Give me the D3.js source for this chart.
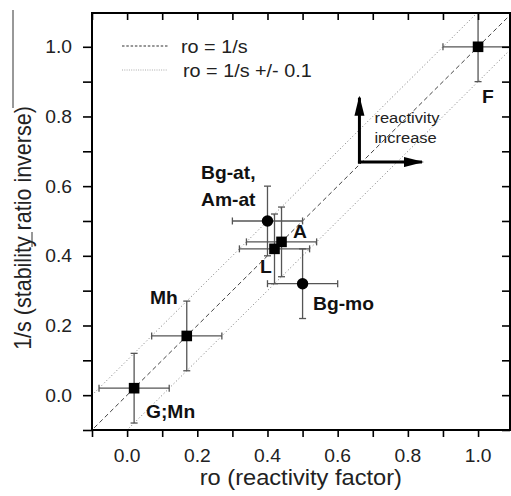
<!DOCTYPE html>
<html><head><meta charset="utf-8">
<script src="https://cdn.jsdelivr.net/npm/d3@7"></script>
<style>body{margin:0;background:#fff}svg{display:block}text{font-family:Arial,"Liberation Sans",sans-serif}</style>
</head><body><svg id="c" width="511" height="496"></svg>
<script>
const labels = ["G;Mn","Mh","Bg-at, Am-at","L","A","Bg-mo","F"];
const roValues = [0.02,0.17,0.40,0.42,0.44,0.50,1.00];
const invS = [0.02,0.17,0.50,0.42,0.44,0.32,1.00];
const roErr = [0.1,0.1,0.1,0.1,0.1,0.1,0.1];
const invSErr = [0.1,0.1,0.1,0.1,0.1,0.1,0.1];
const markerType = ["square","square","circle","square","square","circle","square"];
const xTicks = [0.0,0.2,0.4,0.6,0.8,1.0];
const yTicks = [0.0,0.2,0.4,0.6,0.8,1.0];
const minorTicks = [-0.1,0,0.1,0.2,0.3,0.4,0.5,0.6,0.7,0.8,0.9,1.0];
const lineOffsets = [-0.1,0.1];

const SX = 1.1; // horizontal text stretch seen in the reference
const svg = d3.select("#c");
const L=92,R=510,T=13,B=430;
const x = d3.scaleLinear().domain([-0.1,1.091]).range([L,R]);
const y = d3.scaleLinear().domain([-0.1,1.097]).range([B,T]);

function stext(g,tx,ty,str,anchor){
  return g.append("text").attr("transform",`translate(${tx},${ty}) scale(${SX},1)`).attr("text-anchor",anchor||"start").text(str);
}

svg.append("clipPath").attr("id","clip").append("rect").attr("x",L).attr("y",T).attr("width",R-L).attr("height",B-T);
const plot = svg.append("g").attr("clip-path","url(#clip)");

// reference lines
plot.append("line").attr("x1",x(-0.2)).attr("y1",y(-0.2)).attr("x2",x(1.2)).attr("y2",y(1.2))
  .attr("stroke","#444").attr("stroke-width",1).attr("stroke-dasharray","4.5,3");
lineOffsets.forEach(o=>{
  plot.append("line").attr("x1",x(-0.2)).attr("y1",y(-0.2+o)).attr("x2",x(1.2)).attr("y2",y(1.2+o))
    .attr("stroke","#777").attr("stroke-width",1).attr("stroke-dasharray","1,2.5");
});

// error bars
const cap=3.5;
roValues.forEach((v,i)=>{
  const g=plot.append("g").attr("stroke","#555").attr("stroke-width",1.3);
  const cx=x(v), cy=y(invS[i]);
  const x0=x(v-roErr[i]), x1=x(v+roErr[i]), y0=y(invS[i]-invSErr[i]), y1=y(invS[i]+invSErr[i]);
  g.append("line").attr("x1",x0).attr("x2",x1).attr("y1",cy).attr("y2",cy);
  g.append("line").attr("x1",x0).attr("x2",x0).attr("y1",cy-cap).attr("y2",cy+cap);
  g.append("line").attr("x1",x1).attr("x2",x1).attr("y1",cy-cap).attr("y2",cy+cap);
  g.append("line").attr("x1",cx).attr("x2",cx).attr("y1",y0).attr("y2",y1);
  g.append("line").attr("x1",cx-cap).attr("x2",cx+cap).attr("y1",y0).attr("y2",y0);
  g.append("line").attr("x1",cx-cap).attr("x2",cx+cap).attr("y1",y1).attr("y2",y1);
});
// markers
roValues.forEach((v,i)=>{
  const cx=x(v), cy=y(invS[i]);
  if(markerType[i]==="square") plot.append("rect").attr("x",cx-5.3).attr("y",cy-5.3).attr("width",10.6).attr("height",10.6).attr("fill","#000");
  else plot.append("circle").attr("cx",cx).attr("cy",cy).attr("r",5.7).attr("fill","#000");
});

// axes
const ax = svg.append("g");
ax.append("g").attr("transform",`translate(0,${B})`).call(d3.axisBottom(x).tickValues(minorTicks).tickSize(7).tickFormat(""))
  .call(g=>g.select(".domain").remove());
ax.append("g").attr("transform",`translate(0,${T})`).call(d3.axisBottom(x).tickValues(minorTicks).tickSize(7).tickFormat(""))
  .call(g=>g.select(".domain").remove());
ax.append("g").attr("transform",`translate(${L},0)`).call(d3.axisLeft(y).tickValues(minorTicks).tickSize(9).tickFormat(""))
  .call(g=>g.select(".domain").remove());
ax.append("g").attr("transform",`translate(${R},0)`).call(d3.axisLeft(y).tickValues(minorTicks).tickSize(8).tickFormat(""))
  .call(g=>g.select(".domain").remove());
ax.selectAll(".tick line").attr("stroke","#000").attr("stroke-width",1.6);
svg.append("rect").attr("x",L).attr("y",T).attr("width",R-L).attr("height",B-T).attr("fill","none").attr("stroke","#000").attr("stroke-width",2);

// tick labels
const tl = svg.append("g").attr("font-size",17.5).attr("fill","#222");
xTicks.forEach(d=>stext(tl,x(d),462,d3.format(".1f")(d),"middle"));
yTicks.forEach(d=>stext(tl,L-20,y(d)+6.5,d3.format(".1f")(d),"end"));

// axis titles
const tt = svg.append("g").attr("font-size",21.5).attr("fill","#222");
stext(tt,x(0.495),485,"ro (reactivity factor)","middle");
tt.append("text").attr("transform",`translate(31,228) scale(${SX},1) rotate(-90)`).attr("text-anchor","middle")
  .text("1/s (stability ratio inverse)");
svg.append("path").attr("d","M13,10 V108 M32,232 V247").attr("fill","none").attr("stroke","#333").attr("stroke-width",1);

// legend
svg.append("line").attr("x1",122).attr("x2",168).attr("y1",46).attr("y2",46).attr("stroke","#333").attr("stroke-width",1.2).attr("stroke-dasharray","2.5,1.8");
svg.append("line").attr("x1",122).attr("x2",168).attr("y1",70).attr("y2",70).attr("stroke","#aaa").attr("stroke-width",1).attr("stroke-dasharray","1,1.3");
const lg = svg.append("g").attr("font-size",18).attr("fill","#222");
stext(lg,181,53,"ro = 1/s");
stext(lg,183,77,"ro = 1/s +/- 0.1");

// reactivity arrows
const ac=[0.662,0.669], tipY=0.857, tipX=0.843;
const adef=svg.append("defs");
adef.append("marker").attr("id","ah").attr("viewBox","0 0 20 10").attr("refX",18).attr("refY",5)
  .attr("markerWidth",6.7).attr("markerHeight",3.4).attr("markerUnits","strokeWidth").attr("orient","auto")
  .append("path").attr("d","M0,0 L20,5 L0,10 Z").attr("fill","#000");
svg.append("line").attr("x1",x(ac[0])).attr("y1",y(ac[1])+1.5).attr("x2",x(ac[0])).attr("y2",y(tipY)+1)
  .attr("stroke","#000").attr("stroke-width",3).attr("marker-end","url(#ah)");
svg.append("line").attr("x1",x(ac[0])-1.5).attr("y1",y(ac[1])).attr("x2",x(tipX)-1).attr("y2",y(ac[1]))
  .attr("stroke","#000").attr("stroke-width",3).attr("marker-end","url(#ah)");
const rt = svg.append("g").attr("font-size",15).attr("fill","#222");
stext(rt,x(ac[0])+15,123,"reactivity");
stext(rt,x(ac[0])+15,143,"increase");

// point labels
const lab = svg.append("g").attr("font-weight","bold").attr("font-size",17.5).attr("fill","#111");
const labPos = [[146,418],[150,304],[201,179],[260,273],[293,238],[313,310],[482,103]];
labels.forEach((t,i)=>{
  if(t.indexOf(", ")>=0){
    const parts=t.split(" ");
    stext(lab,labPos[i][0],labPos[i][1],parts[0]);
    stext(lab,labPos[i][0],labPos[i][1]+27,parts[1]);
  } else stext(lab,labPos[i][0],labPos[i][1],t);
});
</script></body></html>
